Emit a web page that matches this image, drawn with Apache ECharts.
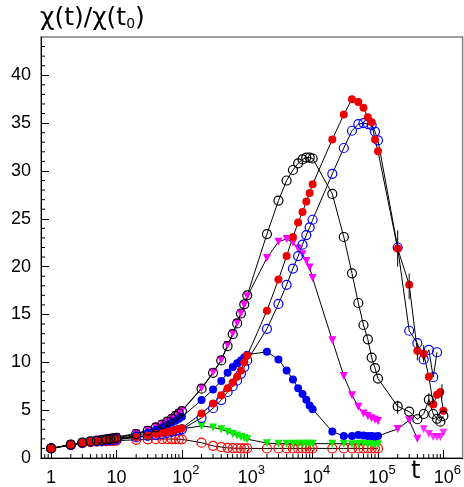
<!DOCTYPE html>
<html><head><meta charset="utf-8">
<script src="https://cdn.jsdelivr.net/npm/echarts@6/dist/echarts.min.js"></script>
<style>html,body{margin:0;padding:0;background:#fff}#c{width:464px;height:487px}</style>
</head><body><div id="c"></div>
<script>
// time grid shared by all series
const T = [1,2,3,4,5,6,7,8,9,10,20,30,40,50,60,70,80,90,100,200,300,400,500,600,700,800,900,1000,
  2000,3000,4000,5000,6000,7000,8000,9000,10000,20000,30000,40000,50000,60000,70000,80000,90000,100000];
const tailT = [200000,300000,400000,500000,600000,700000,800000,900000,1000000];

const blackOpen = [1.0,1.4,1.62,1.75,1.83,1.89,1.95,2.0,2.05,2.1,
  2.5,2.85,3.2,3.5,3.8,4.1,4.4,4.65,4.9,
  7.25,8.9,10.2,11.7,12.95,14.06,15.1,16.06,17.0,
  23.4,26.9,29.0,30.1,30.8,31.2,31.4,31.4,31.3,
  27.6,23.1,19.3,16.2,13.9,12.4,10.5,9.4,8.3];
const blackTail = [5.4,4.85,4.05,4.6,6.1,4.6,4.1,3.8,4.4];

const magenta = [1.0,1.4,1.63,1.78,1.88,1.95,2.02,2.08,2.13,2.2,
  2.55,2.9,3.25,3.55,3.85,4.15,4.45,4.7,4.95,
  7.3,8.95,10.25,11.8,13.0,14.1,15.1,16.0,16.9,
  20.9,22.6,22.9,22.5,21.9,21.3,20.6,19.9,18.8,
  12.3,8.57,6.56,5.36,4.66,4.4,4.15,4.0,3.87];
const magentaTailLineT = [100000,200000,300000,400000];
const magentaTailLine = [2.3,3.04,3.94,2.0];
const magentaTailPtsT = [500000,600000,700000,800000,900000,1000000];
const magentaTailPts = [3.0,2.5,2.2,2.2,2.2,2.65];

const redFilled = [1.0,1.38,1.6,1.72,1.78,1.82,1.86,1.89,1.92,1.95,
  2.2,2.35,2.5,2.62,2.73,2.84,2.95,3.03,3.12,
  4.66,5.7,6.56,7.3,7.9,8.5,9.15,10.0,10.7,
  15.4,18.65,21.1,23.1,24.6,25.7,26.8,27.7,28.6,
  33.3,35.9,37.5,37.2,36.6,35.6,35.1,33.3,32.05];
const redTail = [21.9,18.1,11.2,10.9,8.5,5.6,6.6,6.9,4.94];

const blueOpen = [1.0,1.37,1.58,1.7,1.76,1.8,1.84,1.87,1.9,1.93,
  2.15,2.3,2.42,2.52,2.62,2.72,2.82,2.92,3.0,
  4.2,5.2,6.05,6.9,7.5,8.1,8.8,9.5,10.2,
  13.5,16.1,18.1,19.8,21.1,22.3,23.3,24.1,24.9,
  29.7,32.4,34.2,34.9,35.0,34.9,34.8,34.1,33.2];
const blueOpenTail = [22.0,13.3,12.0,10.3,11.3,8.45,11.05];

const blueFilled = [1.0,1.38,1.61,1.74,1.81,1.86,1.91,1.95,1.98,2.02,
  2.35,2.65,2.95,3.2,3.45,3.7,3.9,4.1,4.3,
  6.05,7.15,8.05,8.9,9.5,9.9,10.2,10.5,10.8,
  11.1,10.3,9.15,8.2,7.3,6.7,6.1,5.5,5.1,
  2.76,2.3,2.3,2.4,2.35,2.3,2.3,2.25,2.3];

const green = [1.0,1.38,1.6,1.72,1.78,1.82,1.86,1.89,1.92,1.95,
  2.2,2.35,2.5,2.6,2.7,2.8,2.9,2.97,3.05,
  3.35,3.2,3.0,2.75,2.5,2.35,2.2,2.1,1.97,
  1.55,1.5,1.5,1.5,1.48,1.5,1.5,1.5,1.5,
  1.5,1.5,1.45,1.5,1.5,1.45,1.45,1.45,1.45];

const redOpen = [1.0,1.35,1.55,1.65,1.7,1.73,1.76,1.78,1.8,1.82,
  1.9,1.95,1.97,1.98,1.98,1.98,1.97,1.96,1.95,
  1.6,1.27,1.14,1.06,1.03,1.02,1.01,1.0,1.0,
  1.0,1.0,1.0,1.0,1.0,1.0,1.0,1.0,1.0,
  1.0,1.0,1.0,1.0,1.0,1.0,1.0,1.0,1.0];

// error bars: time, low, high
const errT = [200000,200000,300000,400000,500000,600000,950000];
const errLo = [20.0,4.6,16.6,10.2,10.0,5.4,6.2];
const errHi = [23.8,6.0,19.3,11.9,11.8,6.8,7.7];

const xMinor = [0.8,0.9];
for (let k=0;k<=5;k++) for (let m=2;m<=9;m++) xMinor.push(m*Math.pow(10,k));
const yMinor = [];
for (let v=1; v<=43; v++) if (v%5) yMinor.push(v);

const FONT = 'Liberation Sans';
const pair = (ts, vs) => vs.map((v,i)=>[ts[i], v]);

function lineSeries(data, sym, color, hollow, rotate, size){
  return {type:'line', data, symbol:sym, symbolSize:size||9, symbolRotate:rotate||0,
    showSymbol:true, showAllSymbol:true, clip:true,
    lineStyle:{color:'#000', width:1}, z:2,
    itemStyle: hollow ? {color:'rgba(0,0,0,0)', borderColor:color, borderWidth:1.2}
                      : {color:color, borderWidth:0}};
}

const chart = echarts.init(document.getElementById('c'), null, {renderer:'canvas'});
const option = {
  animation:false,
  backgroundColor:'#fff',
  grid:{left:41, right:1, top:37, bottom:27, show:true, borderColor:'#808080', borderWidth:1.5},
  xAxis:{type:'log', logBase:10, min:0.7, max:1.97e6,
    axisLine:{lineStyle:{color:'#000', width:1}},
    axisTick:{inside:true, length:8, lineStyle:{color:'#000', width:1}},
    splitLine:{show:false}, minorTick:{show:false},
    axisLabel:{color:'#000', fontSize:18, fontFamily:FONT, margin:6,
      showMinLabel:false, showMaxLabel:false,
      formatter:function(v){
        const e = Math.round(Math.log10(v));
        if (Math.abs(v/Math.pow(10,e)-1) > 1e-6) return '';
        if (e===0) return '{b|1}';
        if (e===1) return '{b|10}';
        return '{p| }{b|10}{e|'+e+'}';
      },
      rich:{
        b:{fontSize:18, fontFamily:FONT, color:'#000', verticalAlign:'bottom', lineHeight:23},
        e:{fontSize:13, fontFamily:FONT, color:'#000', verticalAlign:'top', lineHeight:23},
        p:{fontSize:12, width:8, lineHeight:23}
      }}
  },
  yAxis:{type:'value', min:0, max:44, interval:5,
    axisLine:{lineStyle:{color:'#000', width:1}},
    axisTick:{inside:true, length:8, lineStyle:{color:'#000', width:1}},
    splitLine:{show:false},
    axisLabel:{color:'#000', fontSize:18, fontFamily:FONT, margin:10, showMaxLabel:false}
  },
  graphic:[
    {type:'text', left:40, top:6, style:{text:'χ(t)/χ(t{s|0})', fontSize:25, fontFamily:'DejaVu Sans', fill:'#000',
      rich:{s:{fontSize:14, fontFamily:'DejaVu Sans', verticalAlign:'bottom'}}}},
    {type:'text', left:411, top:460, style:{text:'t', fontSize:24, fontFamily:'DejaVu Sans', fill:'#000'}}
  ],
  series:[
    {type:'custom', z:1, clip:false, data:xMinor.map(t=>[t]),
      renderItem:function(p,api){const c=api.coord([api.value(0),0]);
        return {type:'line', shape:{x1:c[0],y1:c[1],x2:c[0],y2:c[1]-4}, style:{stroke:'#000', lineWidth:1}};}},
    {type:'custom', z:1, clip:false, data:yMinor.map(v=>[v]),
      renderItem:function(p,api){const c=api.coord([0.7,api.value(0)]);
        return {type:'line', shape:{x1:c[0],y1:c[1],x2:c[0]+4,y2:c[1]}, style:{stroke:'#000', lineWidth:1}};}},
    {type:'custom', z:3, data:errT.map((t,i)=>[t,errLo[i],errHi[i]]),
      renderItem:function(p,api){const a=api.coord([api.value(0),api.value(1)]);const b=api.coord([api.value(0),api.value(2)]);
        return {type:'line', shape:{x1:a[0],y1:a[1],x2:b[0],y2:b[1]}, style:{stroke:'#000', lineWidth:1}};}},
    lineSeries(pair(T,redOpen),'circle','#ff0000',true),
    lineSeries(pair(T,green),'triangle','#00ee00',false,180,8),
    lineSeries(pair(T,magenta),'triangle','#ff00ff',false,180,8),
    lineSeries([{value:[magentaTailLineT[0],magentaTailLine[0]], symbol:'none'}].concat(pair(magentaTailLineT,magentaTailLine).slice(1)),'triangle','#ff00ff',false,180,8),
    {type:'scatter', data:pair(magentaTailPtsT,magentaTailPts), symbol:'triangle', symbolRotate:180, symbolSize:8, itemStyle:{color:'#ff00ff'}, z:2},
    lineSeries(pair(T,blueFilled),'circle','#0000f0',false,0,8),
    lineSeries(pair(T,blueOpen).concat(pair(tailT,blueOpenTail)),'circle','#0000ff',true),
    lineSeries(pair(T,redFilled).concat(pair(tailT,redTail)),'circle','#ee0000',false,0,8),
    lineSeries(pair(T,blackOpen).concat(pair(tailT,blackTail)),'circle','#000000',true)
  ]
};
chart.setOption(option);
</script>
</body></html>
